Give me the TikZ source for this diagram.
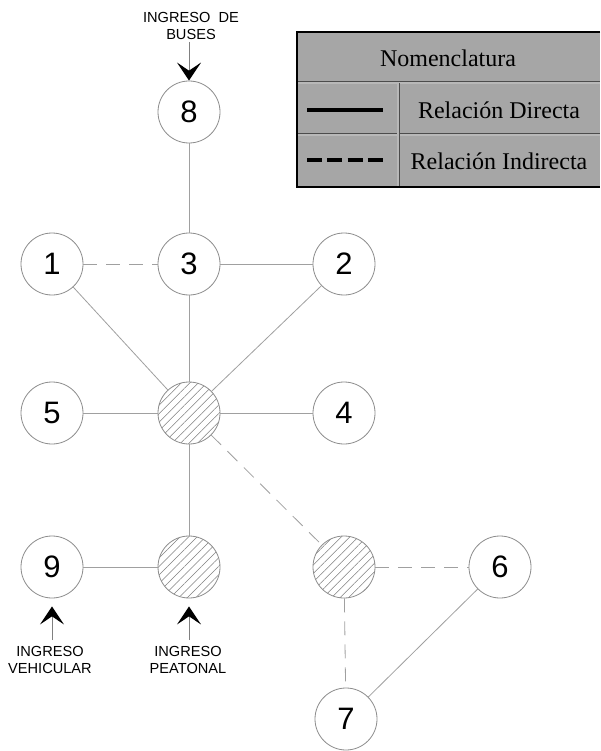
\documentclass[tikz,border=0pt]{standalone}
\usepackage{fontspec}
\setmainfont{Liberation Serif}
\newfontfamily\numfont{Liberation Sans}
\usetikzlibrary{arrows.meta,patterns.meta}
\definecolor{legendgray}{HTML}{A6A6A6}
\definecolor{edgegray}{HTML}{A0A0A0}
\definecolor{circgray}{HTML}{8C8C8C}
\begin{document}
\begin{tikzpicture}[x=1pt,y=-1pt,
  nd/.style={circle, draw=circgray, line width=0.8pt, minimum size=62pt, inner sep=0pt, font=\numfont\fontsize{31}{31}\selectfont},
  hat/.style={nd, pattern={Lines[angle=45,distance=6pt,line width=0.5pt]}, pattern color=gray},
  rel/.style={draw=edgegray, line width=0.8pt},
  ind/.style={rel, dash pattern=on 14pt off 9pt},
  lab/.style={font=\numfont\fontsize{14.6}{16.5}\selectfont, align=center, inner sep=0pt},
  tip/.style={draw=gray, line width=0.6pt, -{Stealth[length=18pt,width=24pt,inset=8pt,color=black,line width=1.4pt]}},
  legtext/.style={font=\fontsize{24}{28}\selectfont, inner sep=0pt},
  sep/.style={draw=black!70, double=legendgray!80, double distance=1.2pt, line width=0.9pt}
]
\useasboundingbox (0,0) rectangle (600,751);
\fill[white] (0,0) rectangle (600,751);

% legend
\fill[legendgray] (297,32) rectangle (600,187);
\draw[sep] (297,83) -- (600,83);
\draw[sep] (297,135) -- (600,135);
\draw[sep] (398,83) -- (398,187);
\draw[line width=2pt] (600,32) -- (297,32) -- (297,187) -- (600,187);
\node[legtext] (nom) at (448,58) {Nomenclatura};
\node[legtext] (rd) at (499,110) {Relación Directa};
\node[legtext] (ri) at (499,161) {Relación Indirecta};
\coordinate (sa) at (307,110); \coordinate (sb) at (383,110);
\coordinate (da) at (307,160); \coordinate (db) at (383,160);
\draw[line width=4pt, black] (sa) -- (sb);
\draw[line width=4pt, black, dash pattern=on 15pt off 5.33pt] (da) -- (db);

% nodes
\node[nd] (n8) at (189,112) {8};
\node[nd] (n1) at (52,264) {1};
\node[nd] (n3) at (189,264) {3};
\node[nd] (n2) at (344,264) {2};
\node[nd] (n5) at (52,413) {5};
\node[hat] (c) at (189,413) {};
\node[nd] (n4) at (344,413) {4};
\node[nd] (n9) at (52,567) {9};
\node[hat] (p) at (189,567) {};
\node[hat] (h) at (344,567) {};
\node[nd] (n6) at (500,567) {6};
\node[nd] (n7) at (346,719) {7};

% edges
\draw[rel] (n8) -- (n3);
\draw[ind] (n1) -- (n3);
\draw[rel] (n3) -- (n2);
\draw[rel] (n3) -- (c);
\draw[rel] (n1) -- (c);
\draw[rel] (n2) -- (c);
\draw[rel] (n5) -- (c);
\draw[rel] (c) -- (n4);
\draw[rel] (c) -- (p);
\draw[rel] (n9) -- (p);
\draw[ind] (c) -- (h);
\draw[ind] (h) -- (n6);
\draw[ind] (h) -- (n7);
\draw[rel] (n6) -- (n7);

% entrances
\node[lab] (tb) at (191,26) {INGRESO\ \ DE\\BUSES};
\coordinate (tbs) at (189,42);
\draw[tip] (tbs) -- (n8.north);
\node[lab] (tv) at (50,660) {INGRESO\\VEHICULAR};
\coordinate (tvs) at (52,640);
\draw[tip, shorten >=8pt] (tvs) -- (n9.south);
\node[lab] (tp) at (188,660) {INGRESO\\PEATONAL};
\coordinate (tps) at (189,640);
\draw[tip, shorten >=8pt] (tps) -- (p.south);
\end{tikzpicture}
\end{document}
